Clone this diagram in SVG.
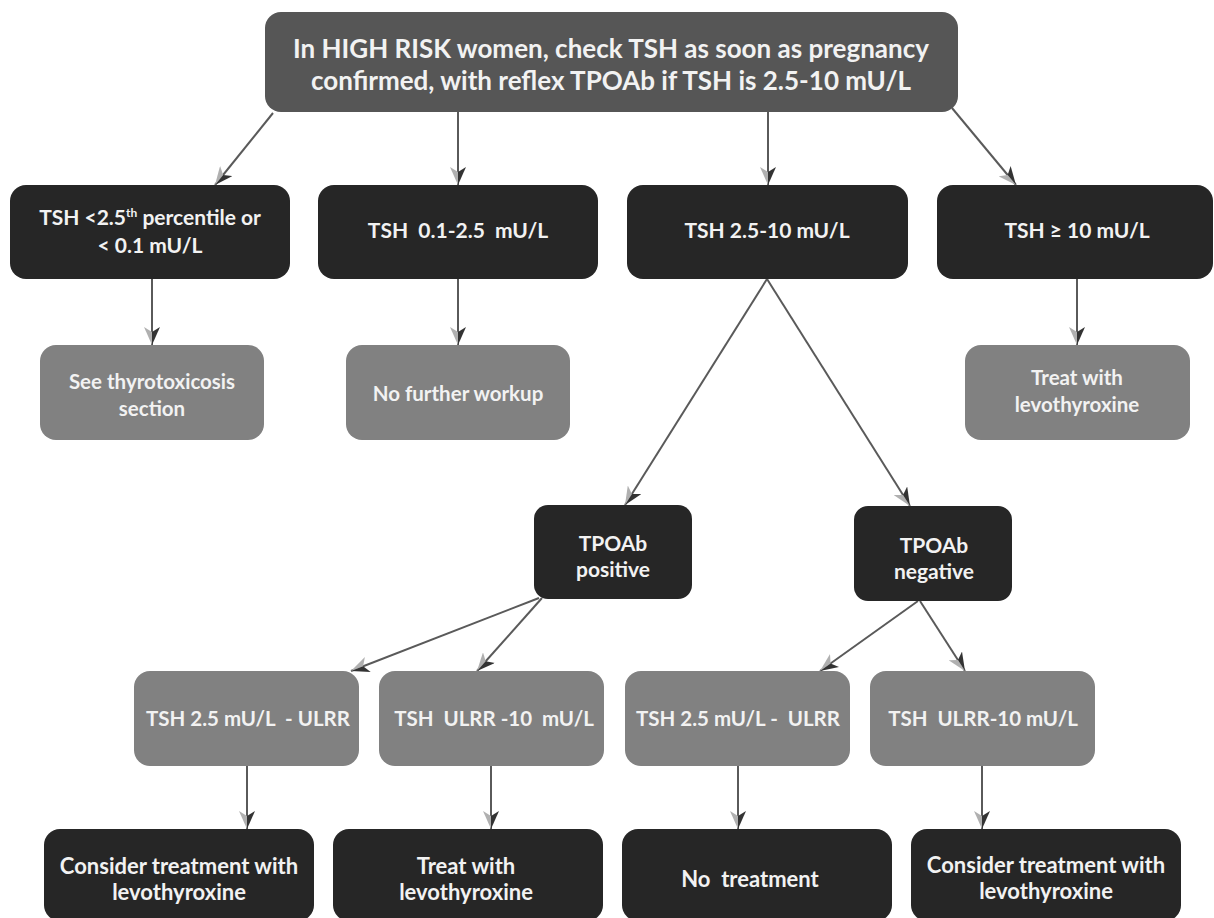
<svg xmlns="http://www.w3.org/2000/svg" width="1214" height="918" viewBox="0 0 1214 918">
<style>
text{font-family:Lato,"Open Sans","Liberation Sans",sans-serif;font-weight:bold;fill:#f2f2f2;text-anchor:middle}
.top{fill:#565656}
.dark{fill:#262626}
.grey{fill:#818181}
.t26{font-size:26px}
.t21{font-size:21px}
.t20{font-size:20.5px}
.t22{font-size:22px}
.conn line{stroke:#5a5a5a;stroke-width:2;marker-end:url(#ah)}
</style>
<defs>
<marker id="ah" viewBox="0 0 18 16" markerWidth="18" markerHeight="16" refX="18" refY="8" orient="auto" markerUnits="userSpaceOnUse">
<polygon points="0,0 18,8 5,8" fill="#333"/>
<polygon points="5,8 18,8 0,16" fill="#b0b0b0"/>
</marker>
</defs>
<rect width="1214" height="918" fill="#fff"/>
<g class="conn" id="connectors">
<line x1="273" y1="113" x2="215" y2="185"/>
<line x1="458" y1="112" x2="458" y2="185"/>
<line x1="768" y1="112" x2="768" y2="185"/>
<line x1="952" y1="108" x2="1016" y2="185"/>
<line x1="152" y1="279" x2="152" y2="345"/>
<line x1="458" y1="279" x2="458" y2="345"/>
<line x1="1077" y1="279" x2="1077" y2="345"/>
<line x1="767" y1="279" x2="625" y2="505"/>
<line x1="767" y1="279" x2="910" y2="506"/>
<line x1="539" y1="598" x2="351" y2="671"/>
<line x1="542" y1="598" x2="477" y2="671"/>
<line x1="918" y1="601" x2="820" y2="671"/>
<line x1="920" y1="601" x2="965" y2="671"/>
<line x1="247" y1="766" x2="247" y2="829"/>
<line x1="491" y1="766" x2="491" y2="829"/>
<line x1="738" y1="766" x2="738" y2="829"/>
<line x1="982" y1="766" x2="982" y2="829"/>
</g>
<g id="n-top"><rect class="top" x="265" y="12" width="693" height="100" rx="16"/>
<text class="t26" x="611" y="58">In HIGH RISK women, check TSH as soon as pregnancy</text>
<text class="t26" x="611" y="90">confirmed, with reflex TPOAb if TSH is 2.5-10 mU/L</text></g>
<g id="n-low"><rect class="dark" x="10" y="185" width="280" height="94" rx="16"/>
<text class="t21" x="150" y="225">TSH &lt;2.5<tspan font-size="12" dy="-8">th</tspan><tspan dy="8"> percentile or</tspan></text>
<text class="t21" x="150" y="253">&lt; 0.1 mU/L</text></g>
<g id="n-normal"><rect class="dark" x="318" y="185" width="280" height="94" rx="16"/>
<text class="t21" x="458" y="238" xml:space="preserve">TSH  0.1-2.5  mU/L</text></g>
<g id="n-mid"><rect class="dark" x="627" y="185" width="281" height="94" rx="16"/>
<text class="t21" x="767" y="238">TSH 2.5-10 mU/L</text></g>
<g id="n-high"><rect class="dark" x="937" y="185" width="276" height="94" rx="16"/>
<text class="t21" x="1077" y="238">TSH ≥ 10 mU/L</text></g>
<g id="n-thyro"><rect class="grey" x="40" y="345" width="224" height="95" rx="16"/>
<text class="t20" x="152" y="389">See thyrotoxicosis</text>
<text class="t20" x="152" y="416">section</text></g>
<g id="n-nowork"><rect class="grey" x="346" y="345" width="224" height="95" rx="16"/>
<text class="t20" x="458" y="401">No further workup</text></g>
<g id="n-treat1"><rect class="grey" x="965" y="345" width="225" height="95" rx="16"/>
<text class="t20" x="1077" y="385">Treat with</text>
<text class="t20" x="1077" y="412">levothyroxine</text></g>
<g id="n-pos"><rect class="dark" x="534" y="505" width="158" height="94" rx="14"/>
<text class="t21" x="613" y="551">TPOAb</text>
<text class="t21" x="613" y="577">positive</text></g>
<g id="n-neg"><rect class="dark" x="854" y="506" width="158" height="95" rx="14"/>
<text class="t21" x="934" y="553">TPOAb</text>
<text class="t21" x="934" y="579">negative</text></g>
<g id="n-e"><rect class="grey" x="134" y="671" width="225" height="95" rx="16"/>
<text class="t20" x="248" y="726" xml:space="preserve">TSH 2.5 mU/L  - ULRR</text></g>
<g id="n-f"><rect class="grey" x="379" y="671" width="225" height="95" rx="16"/>
<text class="t20" x="494" y="726" xml:space="preserve">TSH  ULRR -10  mU/L</text></g>
<g id="n-g"><rect class="grey" x="625" y="671" width="225" height="95" rx="16"/>
<text class="t20" x="738" y="726" xml:space="preserve">TSH 2.5 mU/L -  ULRR</text></g>
<g id="n-h"><rect class="grey" x="870" y="671" width="225" height="95" rx="16"/>
<text class="t20" x="983" y="726" xml:space="preserve">TSH  ULRR-10 mU/L</text></g>
<g id="n-i"><rect class="dark" x="44" y="829" width="270" height="92" rx="16"/>
<text class="t22" x="179" y="874">Consider treatment with</text>
<text class="t22" x="179" y="900">levothyroxine</text></g>
<g id="n-j"><rect class="dark" x="333" y="829" width="270" height="92" rx="16"/>
<text class="t22" x="466" y="874">Treat with</text>
<text class="t22" x="466" y="900">levothyroxine</text></g>
<g id="n-k"><rect class="dark" x="622" y="829" width="270" height="92" rx="16"/>
<text class="t22" x="750" y="887" xml:space="preserve">No  treatment</text></g>
<g id="n-l"><rect class="dark" x="911" y="829" width="270" height="92" rx="16"/>
<text class="t22" x="1046" y="873">Consider treatment with</text>
<text class="t22" x="1046" y="899">levothyroxine</text></g>
</svg>
